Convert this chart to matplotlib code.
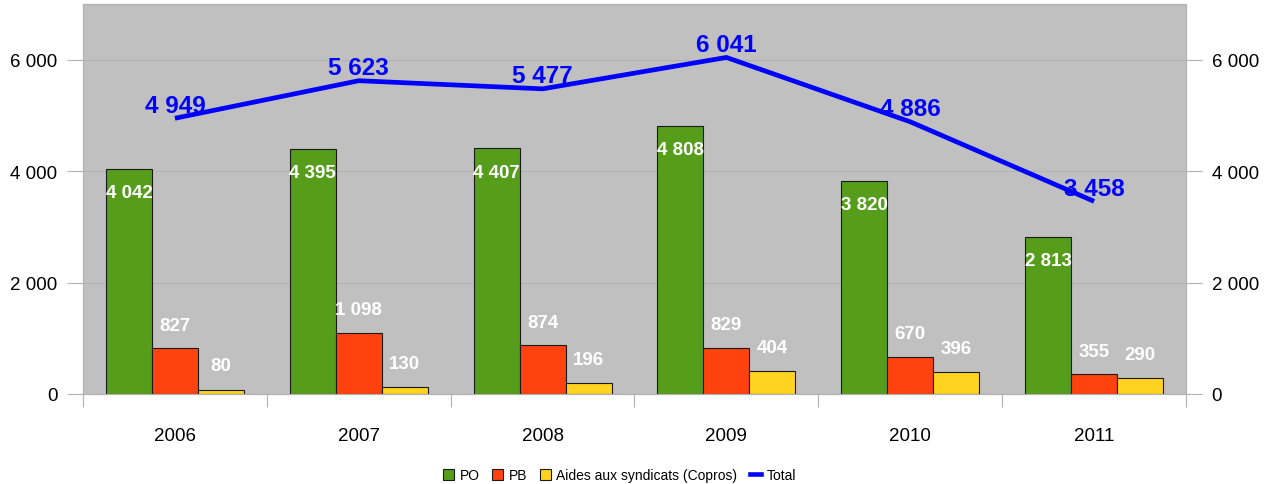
import matplotlib
matplotlib.use("Agg")
import matplotlib.pyplot as plt
from matplotlib.patches import Patch
from matplotlib.lines import Line2D
from matplotlib.ticker import FuncFormatter, FixedLocator
import numpy as np

plt.rcParams["font.family"] = ["Liberation Sans", "DejaVu Sans"]

years = ["2006", "2007", "2008", "2009", "2010", "2011"]
po = [4042, 4395, 4407, 4808, 3820, 2813]
pb = [827, 1098, 874, 829, 670, 355]
copros = [80, 130, 196, 404, 396, 290]
total = [4949, 5623, 5477, 6041, 4886, 3458]

GREEN = "#579d1c"
RED = "#ff420e"
YELLOW = "#ffd320"
BLUE = "#0000ff"
BG = "#c0c0c0"
GRID = "#b3b3b3"


def fr_thousands(v, pos=None):
    return f"{int(round(v)):,}".replace(",", " ")


fig = plt.figure(figsize=(12.72, 4.85), dpi=100)
ax = fig.add_axes([83 / 1272, 90 / 485, (1186 - 83) / 1272, 390 / 485])
ax.set_facecolor(BG)

x = np.arange(len(years))
w = 0.25
series = [(po, GREEN, -w), (pb, RED, 0), (copros, YELLOW, w)]
for vals, col, off in series:
    ax.bar(x + off, vals, width=w, color=col, edgecolor="#1a1a1a",
           linewidth=0.8, zorder=3)

# value labels: inside the top of the PO bars, above the other two
for i in range(len(years)):
    ax.annotate(fr_thousands(po[i]), (x[i] - w, po[i]), xytext=(0, -17),
                textcoords="offset points", ha="center", va="center",
                color="white", fontsize=13.5, fontweight="bold", zorder=5)
    ax.annotate(fr_thousands(pb[i]), (x[i], pb[i]), xytext=(0, 16.5),
                textcoords="offset points", ha="center", va="center",
                color="white", fontsize=13.5, fontweight="bold", zorder=5)
    ax.annotate(fr_thousands(copros[i]), (x[i] + w, copros[i]), xytext=(0, 17),
                textcoords="offset points", ha="center", va="center",
                color="white", fontsize=13.5, fontweight="bold", zorder=5)

ax.set_xlim(-0.5, len(years) - 0.5)
ax.set_ylim(0, 7000)

ax2 = ax.twinx()
ax2.set_ylim(0, 7000)
ax2.plot(x, total, color=BLUE, linewidth=3.4, solid_capstyle="butt", zorder=6)
for i in range(len(years)):
    ax2.annotate(fr_thousands(total[i]), (x[i], total[i]), xytext=(0, 9.5),
                 textcoords="offset points", ha="center", va="center",
                 color=BLUE, fontsize=17.5, fontweight="bold", zorder=7)

# y axes
yt = [0, 2000, 4000, 6000]
for a in (ax, ax2):
    a.set_yticks(yt)
    a.yaxis.set_major_formatter(FuncFormatter(fr_thousands))
    a.tick_params(axis="y", length=11.5, width=0.8, color=GRID, pad=7,
                  labelsize=13.5)
    for s in a.spines.values():
        s.set_color(GRID)
        s.set_linewidth(0.8)
ax.spines["bottom"].set_color("#a0a0a0")
ax.yaxis.grid(True, color=GRID, linewidth=0.8, zorder=0)
ax.set_axisbelow(True)

# x axis: labels at centres, tick marks on category boundaries
ax.set_xticks(x)
ax.set_xticklabels(years)
ax.tick_params(axis="x", length=0, pad=24, labelsize=13.5)
ax.xaxis.set_minor_locator(FixedLocator(np.arange(-0.5, len(years), 1.0)))
ax.tick_params(axis="x", which="minor", length=9.5, width=0.8, color=GRID)

handles = [
    Patch(facecolor=GREEN, edgecolor="#1a1a1a", linewidth=0.8, label="PO"),
    Patch(facecolor=RED, edgecolor="#1a1a1a", linewidth=0.8, label="PB"),
    Patch(facecolor=YELLOW, edgecolor="#1a1a1a", linewidth=0.8,
          label="Aides aux syndicats (Copros)"),
    Line2D([0], [0], color=BLUE, linewidth=3.3, label="Total"),
]
fig.legend(handles=handles, loc="center", bbox_to_anchor=(0.487, 0.018),
           ncol=4, frameon=False, fontsize=10, handlelength=0.8,
           handleheight=0.8, handletextpad=0.4, columnspacing=0.9,
           borderpad=0)

fig.savefig("out.png", dpi=100, facecolor="white")
